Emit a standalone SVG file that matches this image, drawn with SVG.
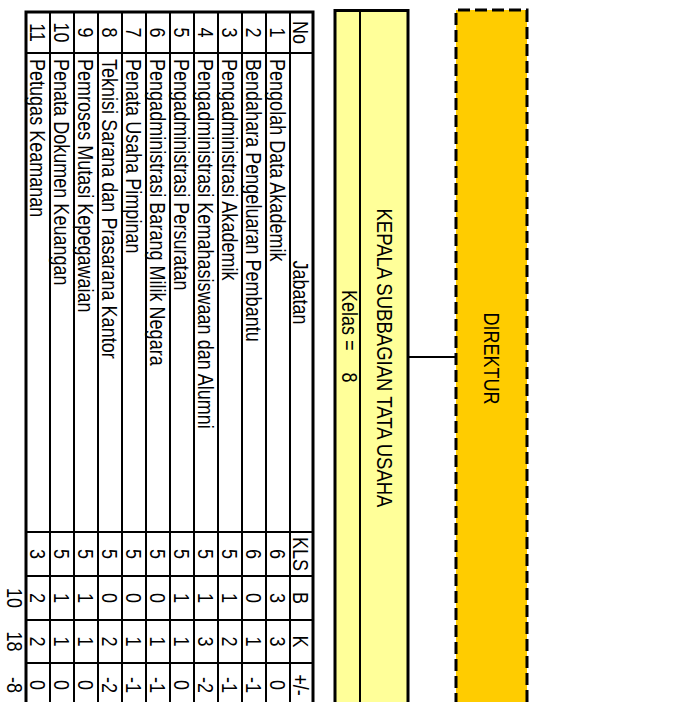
<svg xmlns="http://www.w3.org/2000/svg" width="696" height="702" viewBox="0 0 696 702">
<style>
text { font-family: "Liberation Sans", Arial, sans-serif; font-size: 22px; fill: #000; }
.c { text-anchor: middle; }
.grid { stroke: #000; stroke-width: 2; fill: none; }
.outer { stroke: #000; stroke-width: 3; fill: none; }
.conn { stroke: #000; stroke-width: 2; fill: none; }
</style>
<rect width="696" height="702" fill="#fff"/>
<g transform="translate(696,0) rotate(90)">
  <g id="connectors">
    <line class="conn" x1="357" y1="240" x2="357" y2="288"/>
  </g>
  <g id="direktur">
    <rect x="10" y="169" width="720" height="71" fill="#FFCC00" stroke="#000" stroke-width="3" stroke-dasharray="12 5"/>
    <text class="c" transform="translate(358.5,212) scale(0.82,1)">DIREKTUR</text>
  </g>
  <g id="kepala">
    <rect x="10.5" y="288" width="720" height="73" fill="#FFFF99" stroke="#000" stroke-width="3"/>
    <line x1="10.5" y1="336" x2="730" y2="336" stroke="#000" stroke-width="2"/>
    <text class="c" transform="translate(358,319) scale(0.843,1)">KEPALA SUBBAGIAN TATA USAHA</text>
    <text transform="translate(290,354.5) scale(0.82,1)">Kelas =</text>
    <text class="c" transform="translate(377.5,354.5) scale(0.82,1)">8</text>
  </g>
  <g id="tabel">
    <rect class="outer" x="12" y="383" width="720" height="287"/>
    <path class="grid" d="M12 406H732M12 430H732M12 454H732M12 478H732M12 502H732M12 526H732M12 550H732M12 574H732M12 598H732M12 622H732M12 646H732M53 383V670M532 383V670M576 383V670M620 383V670M663 383V670"/>
    <g id="header">
      <text class="c" transform="translate(32.5,403.5) scale(0.82,1)">No</text>
      <text class="c" transform="translate(292.5,403.5) scale(0.82,1)">Jabatan</text>
      <text class="c" transform="translate(554,403.5) scale(0.82,1)">KLS</text>
      <text class="c" transform="translate(598,403.5) scale(0.82,1)">B</text>
      <text class="c" transform="translate(641.5,403.5) scale(0.82,1)">K</text>
      <text class="c" transform="translate(685,403.5) scale(0.82,1)">+/-</text>
    </g>
    <g id="row1">
      <text class="c" transform="translate(32.5,426) scale(0.82,1)">1</text>
      <text transform="translate(59,426) scale(0.82,1)">Pengolah Data Akademik</text>
      <text class="c" transform="translate(554,426) scale(0.82,1)">6</text>
      <text class="c" transform="translate(598,426) scale(0.82,1)">3</text>
      <text class="c" transform="translate(641.5,426) scale(0.82,1)">3</text>
      <text class="c" transform="translate(685,426) scale(0.82,1)">0</text>
    </g>
    <g id="row2">
      <text class="c" transform="translate(32.5,450) scale(0.82,1)">2</text>
      <text transform="translate(59,450) scale(0.82,1)">Bendahara Pengeluaran Pembantu</text>
      <text class="c" transform="translate(554,450) scale(0.82,1)">6</text>
      <text class="c" transform="translate(598,450) scale(0.82,1)">0</text>
      <text class="c" transform="translate(641.5,450) scale(0.82,1)">1</text>
      <text class="c" transform="translate(685,450) scale(0.82,1)">-1</text>
    </g>
    <g id="row3">
      <text class="c" transform="translate(32.5,474) scale(0.82,1)">3</text>
      <text transform="translate(59,474) scale(0.82,1)">Pengadministrasi Akademik</text>
      <text class="c" transform="translate(554,474) scale(0.82,1)">5</text>
      <text class="c" transform="translate(598,474) scale(0.82,1)">1</text>
      <text class="c" transform="translate(641.5,474) scale(0.82,1)">2</text>
      <text class="c" transform="translate(685,474) scale(0.82,1)">-1</text>
    </g>
    <g id="row4">
      <text class="c" transform="translate(32.5,498) scale(0.82,1)">4</text>
      <text transform="translate(59,498) scale(0.82,1)">Pengadministrasi Kemahasiswaan dan Alumni</text>
      <text class="c" transform="translate(554,498) scale(0.82,1)">5</text>
      <text class="c" transform="translate(598,498) scale(0.82,1)">1</text>
      <text class="c" transform="translate(641.5,498) scale(0.82,1)">3</text>
      <text class="c" transform="translate(685,498) scale(0.82,1)">-2</text>
    </g>
    <g id="row5">
      <text class="c" transform="translate(32.5,522) scale(0.82,1)">5</text>
      <text transform="translate(59,522) scale(0.82,1)">Pengadministrasi Persuratan</text>
      <text class="c" transform="translate(554,522) scale(0.82,1)">5</text>
      <text class="c" transform="translate(598,522) scale(0.82,1)">1</text>
      <text class="c" transform="translate(641.5,522) scale(0.82,1)">1</text>
      <text class="c" transform="translate(685,522) scale(0.82,1)">0</text>
    </g>
    <g id="row6">
      <text class="c" transform="translate(32.5,546) scale(0.82,1)">6</text>
      <text transform="translate(59,546) scale(0.82,1)">Pengadministrasi Barang Milik Negara</text>
      <text class="c" transform="translate(554,546) scale(0.82,1)">5</text>
      <text class="c" transform="translate(598,546) scale(0.82,1)">0</text>
      <text class="c" transform="translate(641.5,546) scale(0.82,1)">1</text>
      <text class="c" transform="translate(685,546) scale(0.82,1)">-1</text>
    </g>
    <g id="row7">
      <text class="c" transform="translate(32.5,570) scale(0.82,1)">7</text>
      <text transform="translate(59,570) scale(0.82,1)">Penata Usaha Pimpinan</text>
      <text class="c" transform="translate(554,570) scale(0.82,1)">5</text>
      <text class="c" transform="translate(598,570) scale(0.82,1)">0</text>
      <text class="c" transform="translate(641.5,570) scale(0.82,1)">1</text>
      <text class="c" transform="translate(685,570) scale(0.82,1)">-1</text>
    </g>
    <g id="row8">
      <text class="c" transform="translate(32.5,594) scale(0.82,1)">8</text>
      <text transform="translate(59,594) scale(0.82,1)">Teknisi Sarana dan Prasarana Kantor</text>
      <text class="c" transform="translate(554,594) scale(0.82,1)">5</text>
      <text class="c" transform="translate(598,594) scale(0.82,1)">0</text>
      <text class="c" transform="translate(641.5,594) scale(0.82,1)">2</text>
      <text class="c" transform="translate(685,594) scale(0.82,1)">-2</text>
    </g>
    <g id="row9">
      <text class="c" transform="translate(32.5,618) scale(0.82,1)">9</text>
      <text transform="translate(59,618) scale(0.82,1)">Pemroses Mutasi Kepegawaian</text>
      <text class="c" transform="translate(554,618) scale(0.82,1)">5</text>
      <text class="c" transform="translate(598,618) scale(0.82,1)">1</text>
      <text class="c" transform="translate(641.5,618) scale(0.82,1)">1</text>
      <text class="c" transform="translate(685,618) scale(0.82,1)">0</text>
    </g>
    <g id="row10">
      <text class="c" transform="translate(32.5,642) scale(0.82,1)">10</text>
      <text transform="translate(59,642) scale(0.82,1)">Penata Dokumen Keuangan</text>
      <text class="c" transform="translate(554,642) scale(0.82,1)">5</text>
      <text class="c" transform="translate(598,642) scale(0.82,1)">1</text>
      <text class="c" transform="translate(641.5,642) scale(0.82,1)">1</text>
      <text class="c" transform="translate(685,642) scale(0.82,1)">0</text>
    </g>
    <g id="row11">
      <text class="c" transform="translate(32.5,666) scale(0.82,1)">11</text>
      <text transform="translate(59,666) scale(0.82,1)">Petugas Keamanan</text>
      <text class="c" transform="translate(554,666) scale(0.82,1)">3</text>
      <text class="c" transform="translate(598,666) scale(0.82,1)">2</text>
      <text class="c" transform="translate(641.5,666) scale(0.82,1)">2</text>
      <text class="c" transform="translate(685,666) scale(0.82,1)">0</text>
    </g>
    <g id="total">
      <text class="c" transform="translate(598,689) scale(0.82,1)">10</text>
      <text class="c" transform="translate(641.5,689) scale(0.82,1)">18</text>
      <text class="c" transform="translate(685,689) scale(0.82,1)">-8</text>
    </g>
  </g>
</g>
</svg>
